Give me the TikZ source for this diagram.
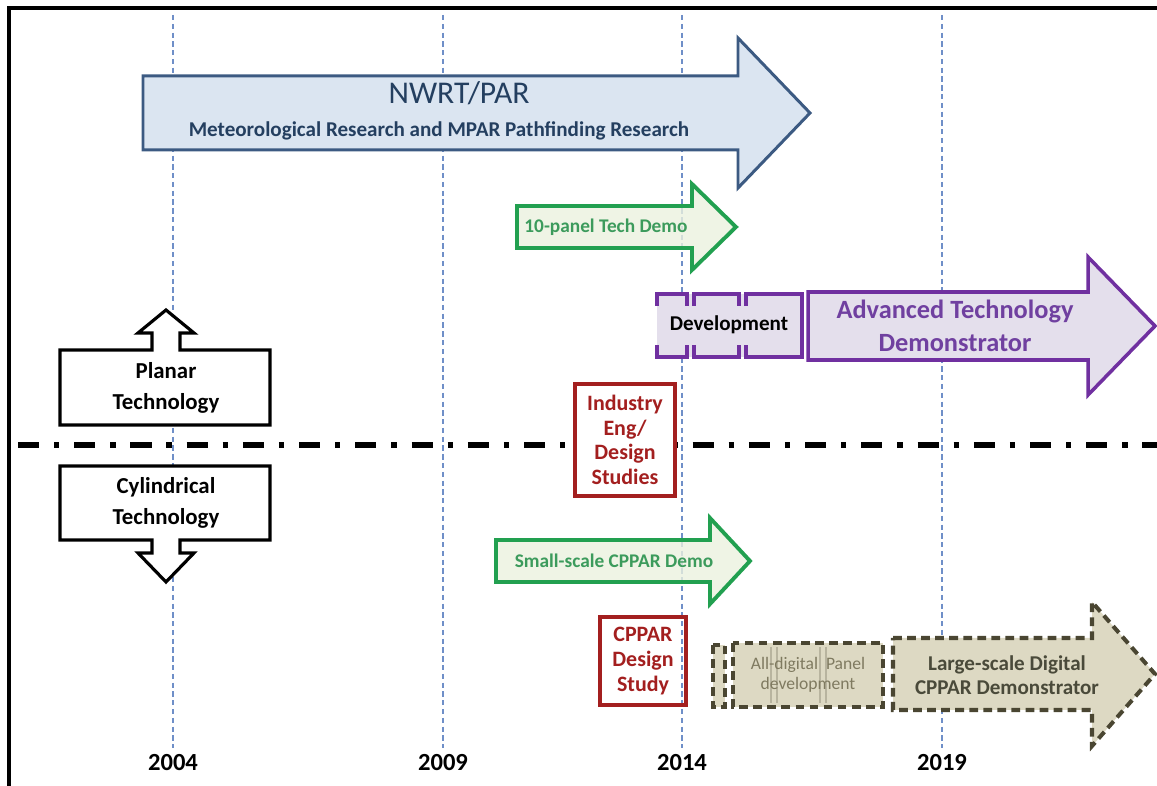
\documentclass[tikz,border=0pt]{standalone}
\usepackage{fontspec}
\setmainfont{Carlito}
\usepackage{xcolor}
\usepackage{tikz}
\usetikzlibrary{positioning}
\definecolor{yearblue}{HTML}{6F8FC8}
\definecolor{nwrtfill}{HTML}{DBE5F1}
\definecolor{nwrtline}{HTML}{3C5A82}
\definecolor{nwrttext}{HTML}{243F60}
\definecolor{demofill}{HTML}{EBF1DE}
\definecolor{demoline}{HTML}{22A050}
\definecolor{demotext}{HTML}{3C9B5C}
\definecolor{atdfill}{HTML}{E4DFEC}
\definecolor{atdline}{HTML}{7030A0}
\definecolor{atdtext}{HTML}{7040A0}
\definecolor{studyred}{HTML}{A31F1F}
\definecolor{cpparfill}{HTML}{DDD9C3}
\definecolor{cpparline}{HTML}{4A4632}
\definecolor{cppartext}{HTML}{4A4A3A}
\definecolor{paneltext}{HTML}{7F7A60}
% block arrow: style, left x, centre y, shaft half, head x, head half, tip x
\newcommand{\rightblock}[7]{%
  \draw[#1] (#2,#3-#4) -- (#5,#3-#4) -- (#5,#3-#6) -- (#7,#3)
    -- (#5,#3+#6) -- (#5,#3+#4) -- (#2,#3+#4) -- cycle;}

\begin{document}
\begin{tikzpicture}[x=0.02cm, y=-0.02cm,
    yearline/.style={draw=yearblue, line width=0.6pt, dash pattern=on 3pt off 2pt},
    yearlabel/.style={font=\bfseries\fontsize{14}{16}\selectfont},
    nwrtarrow/.style={draw=nwrtline, fill=nwrtfill, line width=1.7pt},
    demoarrow/.style={draw=demoline, fill=demofill, fill opacity=0.8, line width=2.2pt},
    atdarrow/.style={draw=atdline, fill=atdfill, line width=2pt},
    cppararrow/.style={draw=cpparline, fill=cpparfill, line width=2.3pt, dash pattern=on 5pt off 3pt},
    techarrow/.style={draw=black, fill=white, line width=1.8pt},
    redbox/.style={draw=studyred, line width=1.8pt, text=studyred, align=center,
                   font=\bfseries\fontsize{12.5}{14}\selectfont, inner sep=0pt}]
      \useasboundingbox (0,0) rectangle (1157,786);

      % year grid
      \draw[yearline] (173,15) -- (173,748);
      \draw[yearline] (443,15) -- (443,748);
      \draw[yearline] (682,15) -- (682,748);
      \draw[yearline] (942,15) -- (942,748);
      \node[yearlabel] (y2004) at (173,763) {2004};
      \node[yearlabel] (y2009) at (443,763) {2009};
      \node[yearlabel] (y2014) at (682,763) {2014};
      \node[yearlabel] (y2019) at (942,763) {2019};

      % frame
      \draw[line width=2.3pt] (9,786) -- (9,8) -- (1157,8);

      % planar / cylindrical split
      \draw[line width=3.4pt, dash pattern=on 12pt off 8.5pt on 3pt off 8.5pt] (18,445) -- (1157,445);
      \draw[techarrow] (60,425) -- (60,350) -- (152,350) -- (152,333) -- (138,333) -- (166,310)
          -- (194,333) -- (180,333) -- (180,350) -- (270,350) -- (270,425) -- cycle;
      \draw[techarrow] (60,466) -- (60,540) -- (152,540) -- (152,553) -- (138,553) -- (166,582)
          -- (194,553) -- (180,553) -- (180,540) -- (270,540) -- (270,466) -- cycle;
      \node[align=center, font=\bfseries\fontsize{13}{17.6}\selectfont] (planar) at (166,388) {Planar\\Technology};
      \node[align=center, font=\bfseries\fontsize{13}{17.6}\selectfont] (cylindrical) at (166,503) {Cylindrical\\Technology};

      % arrows
      \rightblock{nwrtarrow}{143}{113}{37}{738}{75}{810}
      \node[text=nwrttext, font=\fontsize{18}{20}\selectfont] (nwrt) at (459,93) {NWRT/PAR};
      \node[text=nwrttext, font=\bfseries\fontsize{12}{14}\selectfont] (metres) at (439,131)
          {Meteorological Research and MPAR Pathfinding Research};

      \rightblock{demoarrow}{517}{227}{21}{692}{43}{736}
      \node[text=demotext, font=\bfseries\fontsize{11}{13}\selectfont] (tenpanel) at (606,227) {10-panel Tech Demo};

      \fill[atdfill] (657,294) rectangle (802,357);
      \draw[atdline, line width=2pt] (657,306) |- (687,294) -- (687,306);
      \draw[atdline, line width=2pt] (657,345) |- (687,357) -- (687,345);
      \draw[atdline, line width=2pt] (694,306) |- (739,294) -- (739,306);
      \draw[atdline, line width=2pt] (694,345) |- (739,357) -- (739,345);
      \draw[atdline, line width=2pt] (746,306) |- (802,294) -- (802,357) -| (746,345);
      \node[font=\bfseries\fontsize{12}{14}\selectfont] (develop) at (729,325) {Development};
      \rightblock{atdarrow}{808}{326}{34}{1088}{69}{1155}
      \node[text=atdtext, align=center, font=\bfseries\fontsize{15}{19}\selectfont] (atd) at (955,326)
          {Advanced Technology\\Demonstrator};

      \node[redbox, fill=white, minimum width=2cm, minimum height=2.24cm] (industry) at (625,440)
          {Industry\\Eng/\\Design\\Studies};

      \rightblock{demoarrow}{496}{561}{21}{710}{43}{750}
      \node[text=demotext, font=\bfseries\fontsize{11}{13}\selectfont] (smallscale) at (614,561) {Small-scale CPPAR Demo};

      \node[redbox, minimum width=1.72cm, minimum height=1.76cm] (cppardesign) at (643,661)
          {CPPAR\\Design\\Study};

      \draw[cppararrow] (713,645) rectangle (725,707);
      \draw[cppararrow] (733,643) rectangle (883,707);
      \draw[cpparline!25!cpparfill, line width=1.2pt] (771,647) -- (771,703);
      \draw[cpparline!25!cpparfill, line width=1.2pt] (777,647) -- (777,703);
      \draw[cpparline!25!cpparfill, line width=1.2pt] (820,647) -- (820,703);
      \draw[cpparline!25!cpparfill, line width=1.2pt] (826,647) -- (826,703);
      \node[text=paneltext, align=center, font=\fontsize{10}{11.4}\selectfont] (panel) at (808,675)
          {All-digital\ \ Panel\\development};
      \rightblock{cppararrow}{893}{674}{36}{1092}{72}{1155}
      \node[text=cppartext, align=center, font=\bfseries\fontsize{12}{13.7}\selectfont] (largescale) at (1007,675)
          {Large-scale Digital\\CPPAR Demonstrator};
\end{tikzpicture}
\end{document}
